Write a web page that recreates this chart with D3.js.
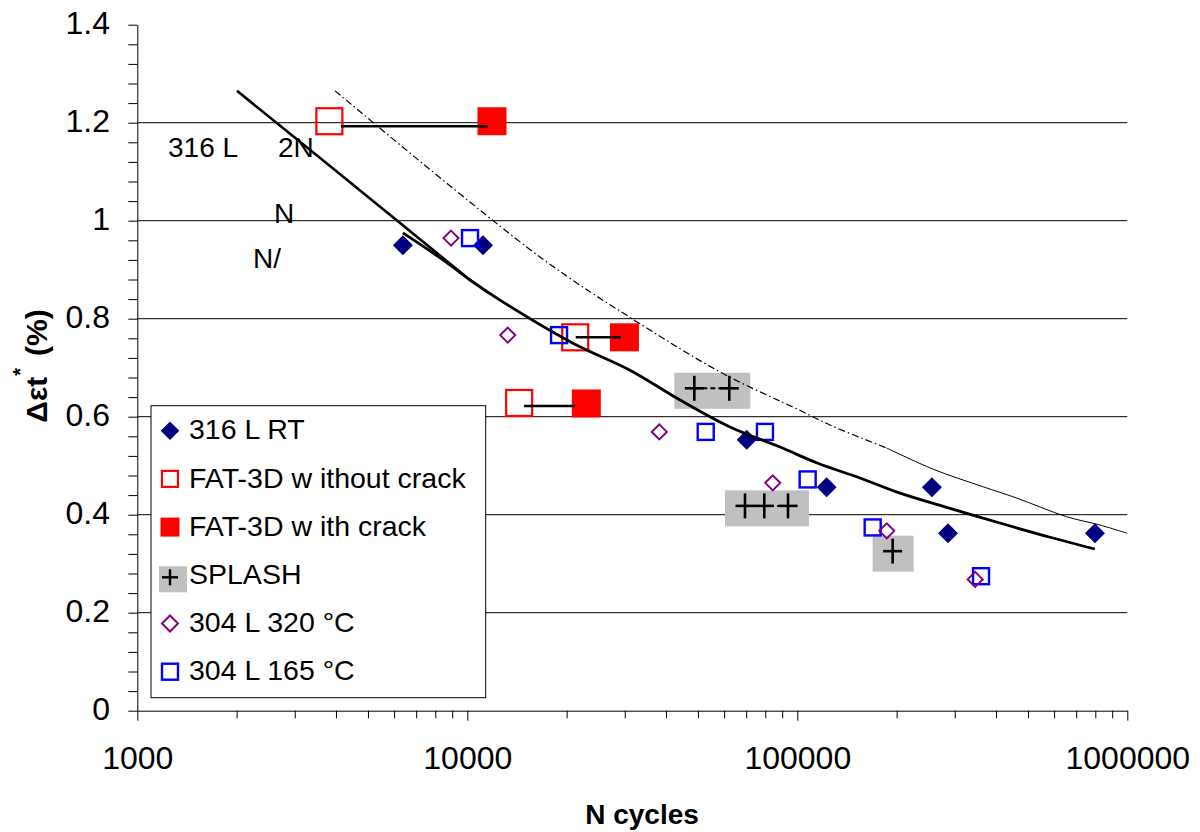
<!DOCTYPE html>
<html><head><meta charset="utf-8">
<script src="https://cdn.jsdelivr.net/npm/d3@7"></script>
<style>
body{margin:0;background:#fff}
svg{display:block}
text{font-family:"Liberation Sans",Arial,Helvetica,sans-serif;fill:#000}
</style>
</head><body>
<svg id="c" width="1200" height="832"></svg>
<script>
// ---------------- data ----------------
const xMajorTicks = [1000, 10000, 100000, 1000000];
const yMajorTicks = [0, 0.2, 0.4, 0.6, 0.8, 1.0, 1.2, 1.4];
const yGridValues = [0.2, 0.4, 0.6, 0.8, 1.0, 1.2];

const legendLabels = ["316 L RT", "FAT-3D w ithout crack", "FAT-3D w ith crack", "SPLASH", "304 L 320 °C", "304 L 165 °C"];

// 316 L RT
const rt316N = [6380, 11160, 70260, 122700, 255800, 286200, 798000];
const rt316E = [0.95, 0.95, 0.553, 0.456, 0.456, 0.362, 0.362];

// FAT-3D without crack / with crack
const fatNoCrackN = [3820, 21230, 14360];
const fatNoCrackE = [1.203, 0.762, 0.628];
const fatCrackN = [11880, 29930, 22940];
const fatCrackE = [1.203, 0.762, 0.627];
// connecting segments (from N, to N, level)
const fatLinkFromN = [4140, 21310, 14860];
const fatLinkToN = [11550, 29230, 21210];
const fatLinkE = [1.193, 0.762, 0.622];

// SPLASH
const splashN = [48750, 62210, 69420, 79430, 93730, 194500];
const splashE = [0.658, 0.658, 0.418, 0.418, 0.418, 0.3256];

// 304 L 320 °C
const l304hotN = [8925, 13260, 38180, 84250, 186700, 346000];
const l304hotE = [0.9645, 0.7665, 0.569, 0.465, 0.367, 0.268];

// 304 L 165 °C
const l304warmN = [10190, 18970, 52780, 79800, 107500, 169200, 360400];
const l304warmE = [0.9645, 0.7665, 0.569, 0.569, 0.472, 0.374, 0.2745];

// fatigue curves
const fitAN = [2005, 6110, 10190];
const fitAE = [1.265, 1.001, 0.879];
const fitBN = [6380, 8440, 10190, 12560, 20900, 31120, 44120, 62520, 88650, 115400, 154900, 204800, 290200, 411000, 583000, 798000];
const fitBE = [0.975, 0.920, 0.879, 0.838, 0.750, 0.695, 0.634, 0.579, 0.538, 0.505, 0.475, 0.444, 0.413, 0.383, 0.354, 0.330];
const designDashN = [3975, 16600, 32610, 59570, 101800, 125600, 186700];
const designDashE = [1.265, 0.926, 0.794, 0.688, 0.613, 0.583, 0.536];
const designSolidN = [186700, 257700, 365600, 462000, 654000, 826000, 1000000];
const designSolidE = [0.536, 0.493, 0.457, 0.434, 0.396, 0.379, 0.362];

// annotation texts
const noteTexts = ["316 L", "2N", "N", "N/"];

// ---------------- drawing ----------------
const svg = d3.select("#c");
svg.append("rect").attr("width", 1200).attr("height", 832).attr("fill", "#fff");

const x = d3.scaleLog().domain([1000, 1000000]).range([137.3, 1127.3]);
const y = d3.scaleLinear().domain([0, 1.4]).range([710.7, 24.7]);

const zip = (a, b) => a.map((v, i) => [v, b[i]]);
const diamondPath = (cx, cy, r) => `M${cx},${cy - r}L${cx + r},${cy}L${cx},${cy + r}L${cx - r},${cy}Z`;

// gridlines
svg.append("g").selectAll("line").data(yGridValues).join("line")
  .attr("x1", x(1000)).attr("x2", x(1000000))
  .attr("y1", d => y(d)).attr("y2", d => y(d))
  .attr("stroke", "#000").attr("stroke-width", 1);

// SPLASH grey boxes
const splashPts = zip(splashN, splashE);
const splashGroups = Array.from(d3.group(splashPts, d => d[1]), ([e, pts]) => ({e, n0: d3.min(pts, p => p[0]), n1: d3.max(pts, p => p[0])}));
svg.append("g").selectAll("rect").data(splashGroups).join("rect")
  .attr("x", d => x(d.n0) - 20).attr("width", d => x(d.n1) - x(d.n0) + 41)
  .attr("y", d => y(d.e) - 15.5).attr("height", 36)
  .attr("fill", "#C0C0C0");

// 316 L RT
svg.append("g").selectAll("path").data(zip(rt316N, rt316E)).join("path")
  .attr("d", d => diamondPath(x(d[0]), y(d[1]), 10))
  .attr("fill", "#000080");

// FAT-3D without crack
svg.append("g").selectAll("rect").data(zip(fatNoCrackN, fatNoCrackE)).join("rect")
  .attr("x", d => x(d[0]) - 13).attr("y", d => y(d[1]) - 13)
  .attr("width", 26).attr("height", 26)
  .attr("fill", "none").attr("stroke", "#FF0000").attr("stroke-width", 2.2);

// FAT-3D with crack
svg.append("g").selectAll("rect").data(zip(fatCrackN, fatCrackE)).join("rect")
  .attr("x", d => x(d[0]) - 14.5).attr("y", d => y(d[1]) - 14)
  .attr("width", 29).attr("height", 28)
  .attr("fill", "#FF0000");

// connectors
svg.append("g").selectAll("line").data(fatLinkE.map((e, i) => ({a: fatLinkFromN[i], b: fatLinkToN[i], e}))).join("line")
  .attr("x1", d => x(d.a)).attr("x2", d => x(d.b))
  .attr("y1", d => y(d.e)).attr("y2", d => y(d.e))
  .attr("stroke", "#000").attr("stroke-width", 2.5);

// 304 L 165 °C
svg.append("g").selectAll("rect").data(zip(l304warmN, l304warmE)).join("rect")
  .attr("x", d => x(d[0]) - 8).attr("y", d => y(d[1]) - 8)
  .attr("width", 16).attr("height", 16)
  .attr("fill", "none").attr("stroke", "#0000FF").attr("stroke-width", 2.4);

// 304 L 320 °C
svg.append("g").selectAll("path").data(zip(l304hotN, l304hotE)).join("path")
  .attr("d", d => diamondPath(x(d[0]), y(d[1]), 7.5))
  .attr("fill", "none").attr("stroke", "#800080").attr("stroke-width", 2);

// SPLASH dashed links and crosses
svg.append("g").selectAll("line").data(splashGroups.filter(g => g.n1 > g.n0)).join("line")
  .attr("x1", d => x(d.n0)).attr("x2", d => x(d.n1))
  .attr("y1", d => y(d.e)).attr("y2", d => y(d.e))
  .attr("stroke", "#000").attr("stroke-width", 2).attr("stroke-dasharray", "5,3");
const crossG = svg.append("g").attr("stroke", "#000").attr("stroke-width", 2.6);
splashPts.forEach(d => {
  const cx = x(d[0]), cy = y(d[1]);
  crossG.append("line").attr("x1", cx - 9.5).attr("x2", cx + 9.5).attr("y1", cy).attr("y2", cy);
  crossG.append("line").attr("x1", cx).attr("x2", cx).attr("y1", cy - 12.5).attr("y2", cy + 12.5);
});

// curves
const line = d3.line().x(d => x(d[0])).y(d => y(d[1])).curve(d3.curveCatmullRom.alpha(0.5));
svg.append("path").datum(zip(designDashN, designDashE)).attr("d", line)
  .attr("fill", "none").attr("stroke", "#000").attr("stroke-width", 1.2)
  .attr("stroke-dasharray", "7,3,1.5,3");
svg.append("path").datum(zip(designSolidN, designSolidE)).attr("d", line)
  .attr("fill", "none").attr("stroke", "#000").attr("stroke-width", 1);
svg.append("path").datum(zip(fitAN, fitAE)).attr("d", line)
  .attr("fill", "none").attr("stroke", "#000").attr("stroke-width", 2.6);
svg.append("path").datum(zip(fitBN, fitBE)).attr("d", line)
  .attr("fill", "none").attr("stroke", "#000").attr("stroke-width", 2.8);

// annotations
const noteG = svg.append("g").attr("font-size", 28);
noteG.append("text").attr("x", 168).attr("y", 157).text(noteTexts[0]);
noteG.append("text").attr("x", 278).attr("y", 157).text(noteTexts[1]);
noteG.append("text").attr("x", 274).attr("y", 223).text(noteTexts[2]);
noteG.append("text").attr("x", 253).attr("y", 268).text(noteTexts[3]);

// axes
const fmtY = d => String(+(+d).toFixed(2));
const yMinor = d3.range(0, 36).map(i => +(i * 0.04).toFixed(2));
const yAxis = d3.axisLeft(y).tickValues(yMinor).tickSize(9).tickSizeOuter(0).tickPadding(18.3)
  .tickFormat(d => yMajorTicks.some(t => Math.abs(t - d) < 1e-6) ? fmtY(d) : "");
const gy = svg.append("g").attr("transform", `translate(${x(1000)},0)`).call(yAxis);
gy.selectAll("text").attr("font-size", 32).attr("dy", "0.27em").attr("font-family", '"Liberation Sans",Arial,sans-serif');

const xMinor = [];
[1000, 10000, 100000].forEach(dec => { for (let k = 2; k <= 9; k++) xMinor.push(dec * k); });
const gxMinor = svg.append("g").attr("transform", `translate(0,${y(0)})`)
  .call(d3.axisBottom(x).tickValues(xMinor).tickSize(7.6).tickSizeOuter(0).tickFormat(""));
gxMinor.select(".domain").remove();
const gx = svg.append("g").attr("transform", `translate(0,${y(0)})`)
  .call(d3.axisBottom(x).tickValues(xMajorTicks).tickSize(10).tickSizeOuter(0).tickPadding(25.9).tickFormat(d3.format("d")));
gx.selectAll("text").attr("font-size", 32).attr("font-family", '"Liberation Sans",Arial,sans-serif');
svg.selectAll(".domain").attr("stroke", "#000").attr("stroke-width", 1);
svg.selectAll(".tick line").attr("stroke", "#000").attr("stroke-width", 1);

// axis titles
const yt = svg.append("text").attr("transform", "translate(46.7,366) rotate(-90)")
  .attr("text-anchor", "middle").attr("font-size", 30).attr("font-weight", "bold");
yt.append("tspan").text("Δεt");
yt.append("tspan").attr("font-size", 20).attr("dy", -20).attr("dx", 1).text("*");
yt.append("tspan").attr("dy", 20).attr("dx", 12).text("(%)");

svg.append("text").attr("x", 642).attr("y", 824).attr("text-anchor", "middle")
  .attr("font-size", 28).attr("font-weight", "bold").text("N cycles");

// legend
const lg = svg.append("g");
lg.append("rect").attr("x", 151).attr("y", 405.7).attr("width", 334.7).attr("height", 292)
  .attr("fill", "#fff").attr("stroke", "#000").attr("stroke-width", 1);
const rowY = i => 430.7 + 48.2 * i;
const mx = 170;
lg.append("path").attr("d", diamondPath(mx, rowY(0), 9.3)).attr("fill", "#000080");
lg.append("rect").attr("x", mx - 8).attr("y", rowY(1) - 8).attr("width", 16).attr("height", 16)
  .attr("fill", "none").attr("stroke", "#FF0000").attr("stroke-width", 2.2);
lg.append("rect").attr("x", mx - 9.5).attr("y", rowY(2) - 9.5).attr("width", 19).attr("height", 19).attr("fill", "#FF0000");
lg.append("rect").attr("x", 159).attr("y", rowY(3) - 9).attr("width", 28).attr("height", 26).attr("fill", "#C0C0C0");
lg.append("line").attr("x1", mx - 8).attr("x2", mx + 8).attr("y1", rowY(3) + 2).attr("y2", rowY(3) + 2).attr("stroke", "#000").attr("stroke-width", 2.4);
lg.append("line").attr("x1", mx).attr("x2", mx).attr("y1", rowY(3) - 6).attr("y2", rowY(3) + 10).attr("stroke", "#000").attr("stroke-width", 2.4);
lg.append("path").attr("d", diamondPath(mx, rowY(4), 8)).attr("fill", "none").attr("stroke", "#800080").attr("stroke-width", 2);
lg.append("rect").attr("x", mx - 8).attr("y", rowY(5) - 8).attr("width", 16).attr("height", 16)
  .attr("fill", "none").attr("stroke", "#0000FF").attr("stroke-width", 2.4);
lg.selectAll("text.lab").data(legendLabels).join("text").attr("class", "lab")
  .attr("x", 189).attr("y", (d, i) => rowY(i) + 8.6).attr("font-size", 28.5).text(d => d);
</script>
</body></html>
